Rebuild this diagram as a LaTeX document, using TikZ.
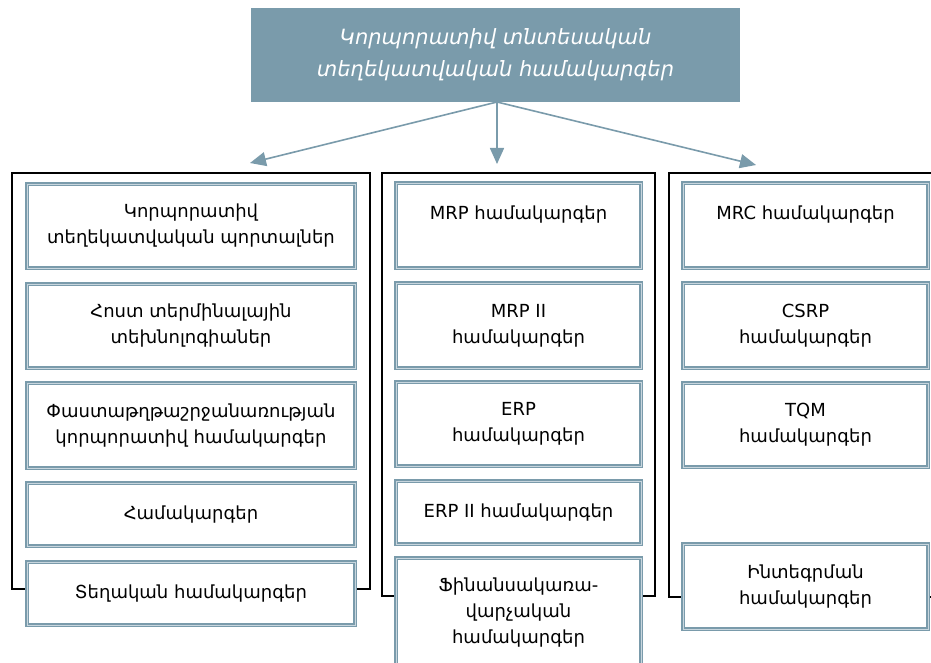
\documentclass[tikz,border=0pt]{standalone}
\usepackage{fontspec}
\setmainfont{DejaVu Sans}
\usetikzlibrary{arrows.meta}
\definecolor{steel}{RGB}{122,155,171}
\definecolor{steelpale}{RGB}{200,214,222}
\begin{document}
\begin{tikzpicture}[x=1pt,y=-1pt,
  box/.style={draw=steel, double=steelpale, double distance=0.8pt, line width=1.2pt,
    fill=white, inner sep=0pt, align=center, text=black,
    font=\fontsize{18}{26}\selectfont},
  lbox/.style={box, minimum width=328pt},
  mbox/.style={box, minimum width=245pt},
  frame/.style={draw=black, line width=1.3pt},
  conn/.style={draw=steel, line width=1.6pt, -{Triangle[length=16pt,width=14pt]}},
  titlebox/.style={fill=steel, draw=none, text=white, align=center,
    minimum width=489pt, minimum height=94pt, inner sep=0pt,
    font=\fontsize{21}{32}\selectfont\itshape}]
\useasboundingbox (0,0) rectangle (931,663);
\clip (0,0) rectangle (931,663);
\fill[white] (0,0) rectangle (931,663);

% title
\node[titlebox] (title) at (495.5,55) {Կորպորատիվ տնտեսական\\տեղեկատվական համակարգեր};
\coordinate (src) at (497,102);
\coordinate (tL) at (250,163);
\coordinate (tM) at (497,164);
\coordinate (tR) at (756,165);
\draw[conn] (src) -- (tL);
\draw[conn] (src) -- (tM);
\draw[conn] (src) -- (tR);

% frames
\draw[frame] (27,589) -- (12,589) -- (12,173) -- (370,173) -- (370,589) -- (355,589);
\draw[frame] (396,596) -- (382,596) -- (382,173) -- (655,173) -- (655,596) -- (641,596);
\draw[frame] (683,597) -- (669,597) -- (669,173) -- (945,173) -- (945,597) -- (928,597);

% left column
\node[lbox, minimum height=84pt] (L1) at (191,226) {Կորպորատիվ\\տեղեկատվական պորտալներ};
\node[lbox, minimum height=84pt] (L2) at (191,326) {Հոստ տերմինալային\\տեխնոլոգիաներ};
\node[lbox, minimum height=85pt] (L3) at (191,425.5) {Փաստաթղթաշրջանառության\\կորպորատիվ համակարգեր};
\node[lbox, minimum height=63pt] (L4) at (191,514.5) {Համակարգեր};
\node[lbox, minimum height=63pt] (L5) at (191,593.5) {Տեղական համակարգեր};

% middle column
\node[mbox, minimum height=85pt] (M1) at (518.5,225.5) {MRP համակարգեր\\\mbox{}};
\node[mbox, minimum height=85pt] (M2) at (518.5,325.5) {MRP II\\համակարգեր};
\node[mbox, minimum height=84pt] (M3) at (518.5,424) {ERP\\համակարգեր};
\node[mbox, minimum height=63pt] (M4) at (518.5,512.5) {ERP II համակարգեր};
\node[mbox, minimum height=110pt] (M5) at (518.5,613) {Ֆինանսակառա-\\վարչական\\համակարգեր};

% right column
\node[mbox, minimum height=85pt] (R1) at (805.5,225.5) {MRC համակարգեր\\\mbox{}};
\node[mbox, minimum height=85pt] (R2) at (805.5,325.5) {CSRP\\համակարգեր};
\node[mbox, minimum height=84pt] (R3) at (805.5,425) {TQM\\համակարգեր};
\node[mbox, minimum height=85pt] (R4) at (805.5,586.5) {Ինտեգրման\\համակարգեր};
\end{tikzpicture}
\end{document}
